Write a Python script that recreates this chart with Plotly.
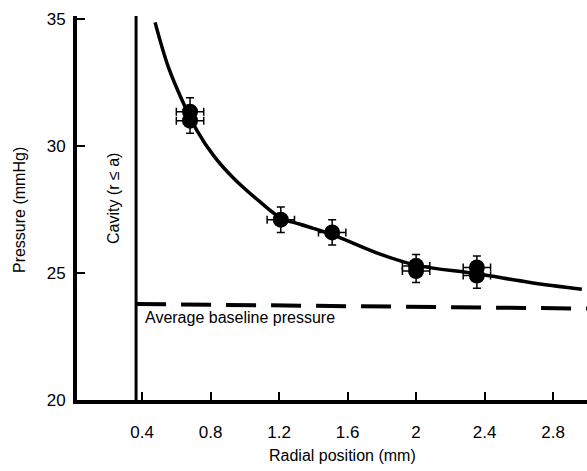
import plotly.graph_objects as go

# Measured data points (radial position mm, pressure mmHg)
pt_x = [0.68, 0.68, 1.21, 1.51, 2.0, 2.0, 2.355, 2.355]
pt_y = [31.35, 31.0, 27.1, 26.6, 25.28, 25.08, 25.22, 24.9]
err_y = [0.55, 0.5, 0.5, 0.5, 0.45, 0.45, 0.45, 0.5]
err_x = [0.08, 0.08, 0.08, 0.08, 0.08, 0.08, 0.08, 0.08]

# Fitted curve
curve_x = [0.476, 0.554, 0.651, 0.719, 0.82, 0.933, 1.089, 1.21, 1.323, 1.40, 1.508, 1.79, 2.004, 2.354, 2.666, 2.968]
curve_y = [34.87, 33.1, 31.55, 30.63, 29.6, 28.74, 27.8, 27.17, 26.92, 26.76, 26.52, 25.74, 25.3, 24.97, 24.63, 24.36]

# Cavity boundary and baseline
cavity_x = [0.365, 0.365]
cavity_y = [20, 35.12]
base_x = [0.365, 3.0]
base_y = [23.78, 23.6]

x_ticks = [0.4, 0.8, 1.2, 1.6, 2.0, 2.4, 2.8]
x_ticktext = ["0.4", "0.8", "1.2", "1.6", "2", "2.4", "2.8"]
y_ticks = [20, 25, 30, 35]

FONT = "Liberation Sans, Arial, Helvetica, sans-serif"

fig = go.Figure()
fig.add_trace(go.Scatter(x=cavity_x, y=cavity_y, mode="lines",
                         line=dict(color="black", width=3), showlegend=False))
fig.add_trace(go.Scatter(x=base_x, y=base_y, mode="lines",
                         line=dict(color="black", width=4, dash="30px,15px"), showlegend=False))
fig.add_trace(go.Scatter(x=curve_x, y=curve_y, mode="lines",
                         line=dict(color="black", width=3.5, shape="spline", smoothing=1.0),
                         showlegend=False))
fig.add_trace(go.Scatter(x=pt_x, y=pt_y, mode="markers",
                         marker=dict(color="black", size=16, symbol="circle"),
                         error_y=dict(type="data", array=err_y, color="black", thickness=1.5, width=4),
                         error_x=dict(type="data", array=err_x, color="black", thickness=1.5, width=4),
                         showlegend=False))

fig.add_annotation(x=0.23, y=27.95, xref="x", yref="y", text="Cavity (r ≤ a)",
                   textangle=-90, showarrow=False, font=dict(family=FONT, size=16, color="black"))
fig.add_annotation(x=0.404, y=23.23, xref="x", yref="y", text="Average baseline pressure",
                   xanchor="left", showarrow=False, font=dict(family=FONT, size=16, color="black"))
fig.add_annotation(x=1.57, y=0, xref="x", yref="paper", yshift=-55, text="Radial position (mm)",
                   showarrow=False, yanchor="middle", font=dict(family=FONT, size=16, color="black"))
fig.add_annotation(x=0, y=27.48, xref="paper", yref="y", xshift=-58, text="Pressure (mmHg)",
                   textangle=-90, showarrow=False, xanchor="center",
                   font=dict(family=FONT, size=16, color="black"))

fig.update_layout(
    width=587, height=471,
    margin=dict(l=77, r=0, t=16, b=71),
    paper_bgcolor="white", plot_bgcolor="white",
    font=dict(family=FONT, size=17, color="black"),
    hovermode=False,
    xaxis=dict(range=[0.02, 2.998], tickvals=x_ticks, ticktext=x_ticktext,
               showgrid=False, zeroline=False, showline=True, linecolor="black", linewidth=4,
               ticks="inside", ticklen=8, tickwidth=1.5, tickcolor="black",
               ticklabelstandoff=14),
    yaxis=dict(range=[20, 35.12], tickvals=y_ticks,
               showgrid=False, zeroline=False, showline=True, linecolor="black", linewidth=4,
               ticks="inside", ticklen=8, tickwidth=1.5, tickcolor="black",
               ticklabelstandoff=4),
)

fig.write_html("out.html", config={"displayModeBar": False},
               post_script="document.body.style.margin='0';")
